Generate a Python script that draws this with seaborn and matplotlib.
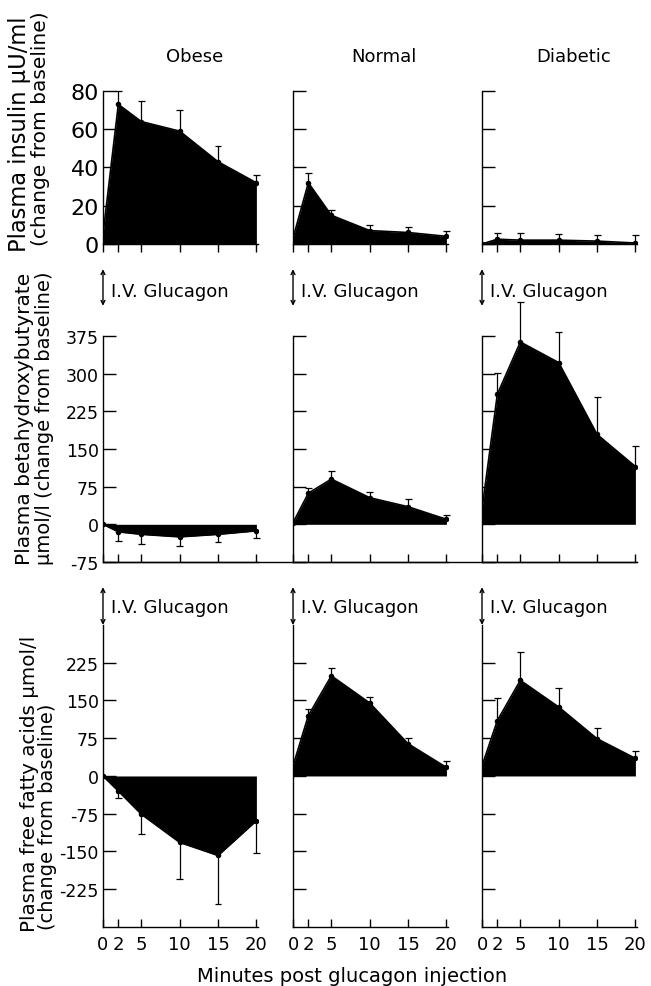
import matplotlib
matplotlib.use("Agg")
import matplotlib.pyplot as plt
from matplotlib.lines import Line2D
import numpy as np
import seaborn as sns

sns.set_style("ticks")
plt.rcParams["font.family"] = ["DejaVu Sans"]
plt.rcParams["axes.unicode_minus"] = False
for key in ["text.color", "axes.labelcolor", "xtick.color", "ytick.color", "axes.edgecolor"]:
    plt.rcParams[key] = "black"

minutes = [0, 2, 5, 10, 15, 20]
groups = ["Obese", "Normal", "Diabetic"]

# plasma insulin (change from baseline), mean and one-sided error
insulin_obese = [5, 73, 64, 59, 43, 32]
insulin_obese_err = [0, 7, 11, 11, 8, 4]
insulin_normal = [3, 32, 15, 7, 6, 4]
insulin_normal_err = [0, 5, 3, 3, 3, 3]
insulin_diabetic = [0, 2.5, 2, 2, 1.5, 0.5]
insulin_diabetic_err = [0, 3, 3.5, 3, 3, 4]

# plasma betahydroxybutyrate
bhb_obese = [0, -15, -20, -25, -20, -13]
bhb_obese_err = [0, 18, 20, 18, 15, 15]
bhb_normal = [3, 62, 90, 53, 35, 10]
bhb_normal_err = [0, 11, 16, 11, 15, 9]
bhb_diabetic = [30, 259, 363, 322, 179, 115]
bhb_diabetic_err = [0, 43, 80, 60, 75, 41]

# plasma free fatty acids
ffa_obese = [0, -30, -76, -132, -158, -89]
ffa_obese_err = [0, 14, 39, 73, 97, 64]
ffa_normal = [20, 120, 199, 145, 64, 17]
ffa_normal_err = [0, 13, 15, 11, 11, 13]
ffa_diabetic = [20, 110, 190, 137, 74, 35]
ffa_diabetic_err = [0, 44, 56, 38, 21, 14]

rows = [
    dict(series=[(insulin_obese, insulin_obese_err), (insulin_normal, insulin_normal_err),
                 (insulin_diabetic, insulin_diabetic_err)],
         ylim=(0, 80), yticks=[0, 20, 40, 60, 80], ticksize=16, xtickdir="out",
         rect_y=(0.7518, 0.155), arrow=None),
    dict(series=[(bhb_obese, bhb_obese_err), (bhb_normal, bhb_normal_err),
                 (bhb_diabetic, bhb_diabetic_err)],
         ylim=(-75, 375), yticks=[-75, 0, 75, 150, 225, 300, 375], ticksize=12.5, xtickdir="in",
         rect_y=(0.4296, 0.229), arrow=(435, 508, 465)),
    dict(series=[(ffa_obese, ffa_obese_err), (ffa_normal, ffa_normal_err),
                 (ffa_diabetic, ffa_diabetic_err)],
         ylim=(-300, 300), yticks=[-225, -150, -75, 0, 75, 150, 225], ticksize=12.5, xtickdir="in",
         rect_y=(0.0598, 0.306), arrow=(300, 375, 336)),
]

col_left = [0.1582, 0.4501, 0.7404]
col_width = 0.238

fig = plt.figure(figsize=(6.51, 9.87), dpi=100)

for r, row in enumerate(rows):
    for c in range(3):
        mean, err = row["series"][c]
        ax = fig.add_axes([col_left[c], row["rect_y"][0], col_width, row["rect_y"][1]])
        mean = np.array(mean, dtype=float)
        err = np.array(err, dtype=float)
        t = np.array(minutes, dtype=float)

        ax.fill_between(t, 0, mean, color="black", linewidth=0)
        sns.lineplot(x=t, y=mean, ax=ax, color="black", linewidth=1.2,
                     marker="o", markersize=4, markeredgewidth=0)
        # one-sided error bars pointing away from zero
        sgn = np.where(mean < 0, -1, 1)
        tip = mean + sgn * err
        has = err > 0
        ax.vlines(t[has], mean[has], tip[has], color="black", linewidth=0.9, clip_on=False)
        ax.hlines(tip[has], t[has] - 0.45, t[has] + 0.45, color="black", linewidth=0.9,
                  clip_on=False)

        ax.set_xlim(0, 20.2)
        ax.set_ylim(*row["ylim"])
        ax.set_yticks(row["yticks"])
        ax.set_xticks(minutes)
        sns.despine(ax=ax)
        for s in ["left", "bottom"]:
            ax.spines[s].set_linewidth(1.0)
        ax.tick_params(axis="y", direction="in", length=9, width=1.0, pad=3,
                       labelsize=row["ticksize"])
        ax.tick_params(axis="x", direction=row["xtickdir"], length=6, width=1.0, pad=6,
                       labelsize=13)
        if c > 0:
            ax.set_yticklabels([])
        if r < 2:
            ax.set_xticklabels([])
        ax.set_xlabel("")
        ax.set_ylabel("")

        if r == 0:
            ax.text(0.59, 1.23, groups[c], transform=ax.transAxes, ha="center",
                    va="center", fontsize=13)
        if row["arrow"] is not None:
            y0, y1, ytxt = row["arrow"]
            ax.annotate("", xy=(0, y1), xytext=(0, y0), annotation_clip=False,
                        arrowprops=dict(arrowstyle="<->", color="black", lw=1.0,
                                        mutation_scale=7, shrinkA=0, shrinkB=0))
            ax.text(1.0, ytxt, "I.V. Glucagon", ha="left", va="center", fontsize=13,
                    clip_on=False)

# the middle row shares one continuous baseline under all three panels
row2_bottom = rows[1]["rect_y"][0]
fig.add_artist(Line2D([col_left[0], col_left[2] + col_width], [row2_bottom, row2_bottom],
                      transform=fig.transFigure, color="black", linewidth=1.0))

# y axis labels, two lines each, reading upwards
fig.text(0.030, 0.745, "Plasma insulin \u03bcU/ml", rotation=90, ha="center",
         va="bottom", fontsize=16.3)
fig.text(0.062, 0.751, "(change from baseline)", rotation=90, ha="center",
         va="bottom", fontsize=14.5)
fig.text(0.038, 0.428, "Plasma betahydroxybutyrate", rotation=90, ha="center",
         va="bottom", fontsize=14.5)
fig.text(0.068, 0.428, "\u03bcmol/l (change from baseline)", rotation=90, ha="center",
         va="bottom", fontsize=14)
fig.text(0.045, 0.056, "Plasma free fatty acids \u03bcmol/l", rotation=90, ha="center",
         va="bottom", fontsize=14.3)
fig.text(0.073, 0.058, "(change from baseline)", rotation=90, ha="center",
         va="bottom", fontsize=14)

fig.text(0.541, 0.011, "Minutes post glucagon injection", ha="center", va="center",
         fontsize=14)

fig.savefig("out.png", dpi=100)
